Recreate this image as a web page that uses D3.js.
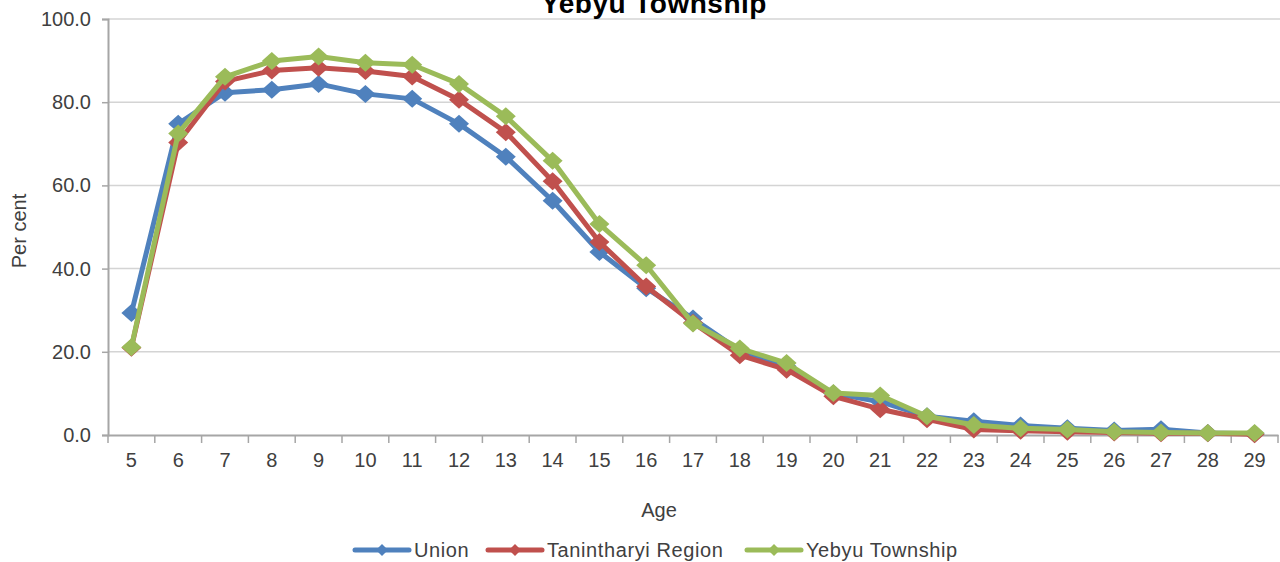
<!DOCTYPE html>
<html>
<head>
<meta charset="utf-8">
<script src="https://cdn.jsdelivr.net/npm/d3@7"></script>
<style>
    body { margin: 0; background: #fff; }
    svg text { font-family: "Liberation Sans", Arial, sans-serif; fill: #404040; }
</style>
</head>
<body>
<script>
(function(){

    //chart values
    var ages = [5, 6, 7, 8, 9, 10, 11, 12, 13, 14, 15, 16, 17, 18, 19, 20, 21, 22, 23, 24, 25, 26, 27, 28, 29];
    var union = [29.3, 74.8, 82.3, 83.0, 84.4, 82.0, 80.8, 74.8, 66.9, 56.3, 44.0, 35.3, 28.0, 20.3, 16.5, 10.0, 8.0, 4.5, 3.3, 2.3, 1.6, 1.1, 1.4, 0.5, 0.3];
    var tanintharyi = [21.0, 70.3, 85.0, 87.6, 88.3, 87.5, 86.2, 80.6, 72.8, 61.0, 46.4, 35.7, 27.0, 19.2, 15.7, 9.3, 6.2, 3.8, 1.3, 1.0, 0.8, 0.6, 0.4, 0.4, 0.2];
    var yebyu = [21.1, 72.5, 86.1, 89.9, 91.0, 89.5, 89.0, 84.4, 76.6, 65.9, 50.7, 40.8, 26.8, 20.8, 17.3, 10.1, 9.5, 4.5, 2.4, 1.6, 1.3, 0.8, 0.6, 0.5, 0.5];
    var seriesNames = ["Union", "Tanintharyi Region", "Yebyu Township"];
    var seriesColors = ["#4f81bd", "#c0504d", "#9bbb59"];
    var yTicks = [0, 20, 40, 60, 80, 100];

    var width = 1280,
        height = 562;

    var svg = d3.select("body")
        .append("svg")
        .attr("width", width)
        .attr("height", height);

    //plot area
    var left = 108, right = 1278, top = 19, bottom = 435;

    var x = d3.scaleBand()
        .domain(ages)
        .range([left, right]);

    var y = d3.scaleLinear()
        .domain([0, 100])
        .range([bottom, top]);

    //horizontal gridlines
    svg.selectAll(".grid")
        .data(yTicks.slice(1))
        .enter()
        .append("line")
        .attr("class", "grid")
        .attr("x1", left)
        .attr("x2", width)
        .attr("y1", function(d){ return y(d); })
        .attr("y2", function(d){ return y(d); })
        .attr("stroke", "#d4d4d4")
        .attr("stroke-width", 1.5);

    //y axis
    var yAxis = svg.append("g")
        .attr("transform", "translate(" + left + ",0)")
        .call(d3.axisLeft(y).tickValues(yTicks).tickFormat(d3.format(".1f")).tickSize(6).tickPadding(11));
    yAxis.select(".domain").attr("stroke", "#a6a6a6").attr("stroke-width", 2);
    yAxis.selectAll(".tick line").attr("stroke", "#a6a6a6").attr("stroke-width", 1.5);
    yAxis.selectAll(".tick text").attr("font-size", 20).attr("fill", "#404040").attr("font-family", "Liberation Sans, Arial, sans-serif");

    //x axis, ticks at category boundaries
    var xAxis = svg.append("g")
        .attr("transform", "translate(0," + bottom + ")")
        .call(d3.axisBottom(x).tickSize(0).tickPadding(18));
    xAxis.select(".domain").attr("stroke", "#a6a6a6").attr("stroke-width", 2);
    xAxis.selectAll(".tick text").attr("font-size", 20).attr("fill", "#404040").attr("font-family", "Liberation Sans, Arial, sans-serif");

    var bounds = ages.map(function(a){ return x(a); }).concat([x(ages[ages.length - 1]) + x.bandwidth()]);
    svg.selectAll(".xtick")
        .data(bounds)
        .enter()
        .append("line")
        .attr("class", "xtick")
        .attr("x1", function(d){ return d; })
        .attr("x2", function(d){ return d; })
        .attr("y1", bottom)
        .attr("y2", bottom + 8)
        .attr("stroke", "#a6a6a6")
        .attr("stroke-width", 1.5);

    //series
    var series = [union, tanintharyi, yebyu];
    var cx = function(i){ return x(ages[i]) + x.bandwidth() / 2; };
    var line = d3.line()
        .x(function(d, i){ return cx(i); })
        .y(function(d){ return y(d); });

    var diamond = function(px, py, w, h){
        return "M" + px + "," + (py - h) + "L" + (px + w) + "," + py + "L" + px + "," + (py + h) + "L" + (px - w) + "," + py + "Z";
    };

    series.forEach(function(vals, s){
        var g = svg.append("g");
        g.append("path")
            .datum(vals)
            .attr("fill", "none")
            .attr("stroke", seriesColors[s])
            .attr("stroke-width", 5)
            .attr("stroke-linejoin", "round")
            .attr("d", line);
        g.selectAll(".marker")
            .data(vals)
            .enter()
            .append("path")
            .attr("fill", seriesColors[s])
            .attr("d", function(d, i){ return diamond(cx(i), y(d), 10, 9); });
    });

    //title
    svg.append("text")
        .attr("x", 654)
        .attr("y", 13)
        .attr("text-anchor", "middle")
        .attr("font-size", 28)
        .attr("font-weight", "bold")
        .attr("letter-spacing", 0.5)
        .style("fill", "#000")
        .text("Yebyu Township");

    //axis titles
    svg.append("text")
        .attr("x", 659)
        .attr("y", 517)
        .attr("text-anchor", "middle")
        .attr("font-size", 20)
        .text("Age");

    svg.append("text")
        .attr("transform", "translate(26,231) rotate(-90)")
        .attr("text-anchor", "middle")
        .attr("font-size", 20)
        .text("Per cent");

    //legend
    var legendX = [355, 488, 747];
    var legend = svg.selectAll(".legend")
        .data(seriesNames)
        .enter()
        .append("g")
        .attr("class", "legend")
        .attr("transform", function(d, i){ return "translate(" + legendX[i] + ",550)"; });
    legend.append("line")
        .attr("x1", 0)
        .attr("x2", 54)
        .attr("stroke", function(d, i){ return seriesColors[i]; })
        .attr("stroke-width", 5)
        .attr("stroke-linecap", "round");
    legend.append("path")
        .attr("fill", function(d, i){ return seriesColors[i]; })
        .attr("d", diamond(27, 0, 6, 6));
    legend.append("text")
        .attr("x", 59)
        .attr("y", 7)
        .attr("font-size", 20)
        .attr("letter-spacing", 0.6)
        .text(function(d){ return d; });

})();
</script>
</body>
</html>
